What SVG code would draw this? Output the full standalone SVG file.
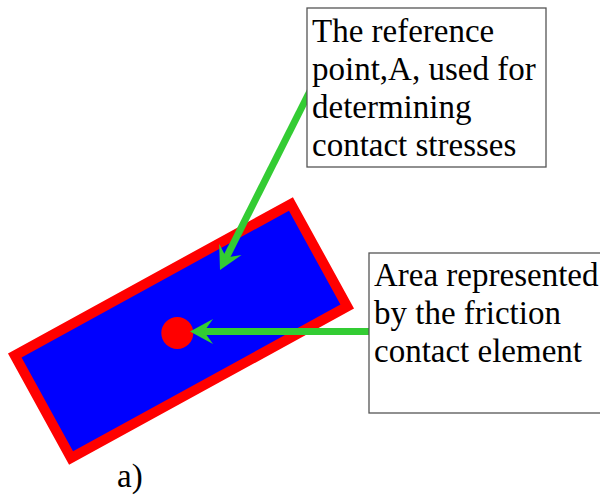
<svg xmlns="http://www.w3.org/2000/svg" width="600" height="497" viewBox="0 0 600 497">
<style>
text{font-family:"Liberation Serif","Times New Roman",serif;font-size:33px;fill:#000}
.box{fill:#fff;stroke:#555;stroke-width:1.3}
.conn{stroke:#33cc33;stroke-width:7;fill:none}
</style>
<defs>
<marker id="ah" markerUnits="userSpaceOnUse" markerWidth="24" markerHeight="26" viewBox="0 0 24 26" refX="11" refY="12.5" orient="auto" overflow="visible">
<path d="M23,12.5 L0,0 L9,12.5 L0,25 Z" fill="#33cc33"/>
</marker>
</defs>
<g id="element">
<rect x="23.5" y="272.5" width="315" height="117" transform="rotate(-28.75 181 331)" fill="#0000ff" stroke="#ff0000" stroke-width="10"/>
</g>
<g id="pointA">
<circle cx="177.3" cy="333" r="16" fill="#ff0000"/>
</g>
<g id="connectors">
<line class="conn" x1="312" y1="87" x2="225.4" y2="259.3" marker-end="url(#ah)"/>
<line class="conn" x1="371" y1="331.5" x2="202" y2="331.5" marker-end="url(#ah)"/>
</g>
<g id="label1">
<rect class="box" x="307" y="8" width="239" height="159"/>
<text x="312" y="42">The reference</text>
<text x="312" y="80">point,A, used for</text>
<text x="312" y="118">determining</text>
<text x="312" y="156">contact stresses</text>
</g>
<g id="label2">
<rect class="box" x="369" y="253" width="240" height="160"/>
<text x="374" y="286">Area represented</text>
<text x="374" y="324">by the friction</text>
<text x="374" y="362">contact element</text>
</g>
<g id="caption">
<text x="117" y="487">a)</text>
</g>
</svg>
